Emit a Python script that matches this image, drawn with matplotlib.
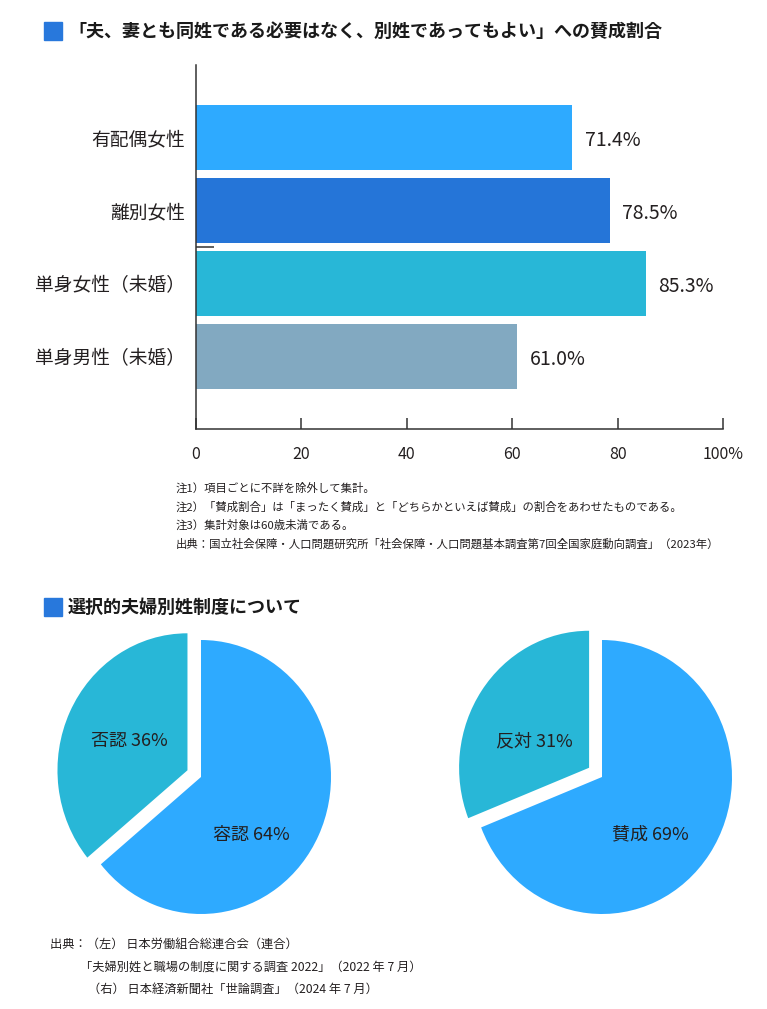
import matplotlib
matplotlib.use("Agg")
import matplotlib.pyplot as plt
from matplotlib.patches import Rectangle

plt.rcParams['font.family'] = ['Noto Sans CJK JP', 'DejaVu Sans']

# ---- data ----
bar_categories = ['有配偶女性', '離別女性', '単身女性（未婚）', '単身男性（未婚）']
bar_values = [71.4, 78.5, 85.3, 61.0]
bar_colors = ['#2eaaff', '#2575d8', '#28b7d7', '#82a9c1']
x_ticks = [0, 20, 40, 60, 80, 100]
x_tick_labels = ['0', '20', '40', '60', '80', '100%']

left_pie_labels = ['容認', '否認']
left_pie_values = [64, 36]
right_pie_labels = ['賛成', '反対']
right_pie_values = [69, 31]
pie_colors = ['#2eaaff', '#28b7d7']

title1 = '「夫、妻とも同姓である必要はなく、別姓であってもよい」への賛成割合'
title2 = '選択的夫婦別姓制度について'
notes1 = ['注1）項目ごとに不詳を除外して集計。',
          '注2）「賛成割合」は「まったく賛成」と「どちらかといえば賛成」の割合をあわせたものである。',
          '注3）集計対象は60歳未満である。',
          '出典：国立社会保障・人口問題研究所「社会保障・人口問題基本調査第7回全国家庭動向調査」（2023年）']
notes2 = ['出典：（左） 日本労働組合総連合会（連合）',
          '「夫婦別姓と職場の制度に関する調査 2022」（2022 年 7 月）',
          '（右） 日本経済新聞社「世論調査」（2024 年 7 月）']

W, H = 767, 1009
fig = plt.figure(figsize=(W / 100, H / 100), dpi=100)
fig.patch.set_facecolor('white')

def fx(px):
    return px / W

def fy(py):
    return 1 - py / H

TXT = '#231f20'
SQ = '#2878dc'

# ---- section titles ----
for (sq_y, text) in [(22, title1), (598, title2)]:
    fig.patches.append(Rectangle((fx(44), fy(sq_y + 18)), 18 / W, 18 / H,
                                 transform=fig.transFigure, color=SQ, zorder=5))
    fig.text(fx(68), fy(sq_y + 9), text, fontsize=13, fontweight='bold',
             color='#1a1a1a', va='center', ha='left')

# ---- bar chart ----
axb = fig.add_axes([fx(196), fy(429), (723 - 196) / W, (429 - 65) / H])
ypos = list(range(len(bar_values) - 1, -1, -1))
axb.barh(ypos, bar_values, height=0.89, color=bar_colors, zorder=2)
axb.set_xlim(0, 100)
axb.set_ylim(-1, 4)
axb.set_yticks(ypos)
axb.set_yticklabels(bar_categories, fontsize=13.5, color=TXT)
axb.set_xticks(x_ticks)
axb.set_xticklabels(x_tick_labels, fontsize=11.5, color=TXT)
axb.tick_params(axis='y', length=0, pad=8)
axb.tick_params(axis='x', direction='in', length=8, width=1.1, color='#333333', pad=12)
axb.set_yticks([1.5], minor=True)
axb.tick_params(axis='y', which='minor', direction='in', length=13, width=1.1, color='#333333')
for s in ['top', 'right']:
    axb.spines[s].set_visible(False)
for s in ['left', 'bottom']:
    axb.spines[s].set_color('#333333')
    axb.spines[s].set_linewidth(1.1)
for y, v in zip(ypos, bar_values):
    axb.text(v + 2.4, y - 0.04, f'{v:.1f}%', va='center', ha='left', fontsize=14, color=TXT)

# notes
for i, line in enumerate(notes1):
    fig.text(fx(176), fy(488 + i * 18.7), line, fontsize=8.2, color=TXT, va='center', ha='left')

# ---- pies ----
def draw_pie(cx, labels, values, label_pos, explode):
    rx, ry = 130, 137
    ax = fig.add_axes([fx(cx - 1.25 * rx), fy(777 + 1.25 * ry), 2.5 * rx / W, 2.5 * ry / H])
    ax.pie(values, colors=pie_colors, startangle=90, counterclock=False,
           explode=[0, explode], wedgeprops=dict(linewidth=0))
    ax.set_aspect('auto')
    ax.set_xlim(-1.25, 1.25)
    ax.set_ylim(-1.25, 1.25)
    ax.axis('off')
    for lab, val, (tx, ty) in zip(labels, values, label_pos):
        ax.text(tx, ty, f'{lab} {val}%', ha='center', va='center', fontsize=13, color=TXT)

draw_pie(201, left_pie_labels, left_pie_values, [(0.39, -0.42), (-0.55, 0.26)], 0.115)
draw_pie(602, right_pie_labels, right_pie_values, [(0.37, -0.42), (-0.52, 0.26)], 0.12)

ys = [944, 967, 989]
xs = [50, 80, 88]
for line, x, y in zip(notes2, xs, ys):
    fig.text(fx(x), fy(y), line, fontsize=8.8, color=TXT, va='center', ha='left')

fig.savefig('out.png', dpi=100, facecolor='white')
